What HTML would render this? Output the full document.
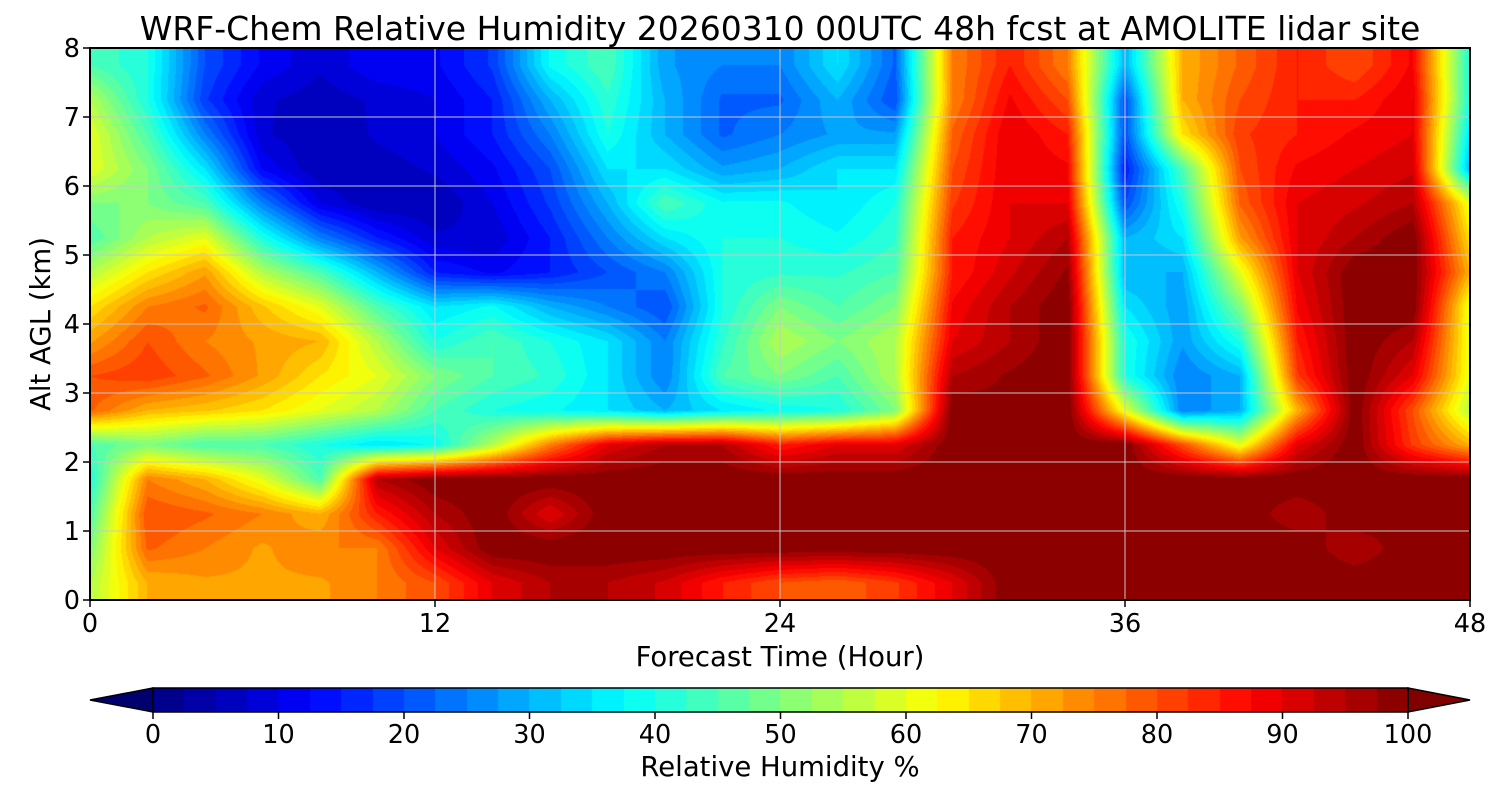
<!DOCTYPE html>
<html><head><meta charset="utf-8">
<style>
body{margin:0;background:#fff;width:1500px;height:800px;overflow:hidden;font-family:"DejaVu Sans","Liberation Sans",sans-serif;}
#wrap{position:relative;width:1500px;height:800px;}
canvas{position:absolute;}
svg{position:absolute;left:0;top:0;font-family:"DejaVu Sans","Liberation Sans",sans-serif;}
</style></head><body>
<div id="wrap">
<canvas id="hm" width="1380" height="552" style="left:90px;top:48px"></canvas>
<canvas id="cb" width="1255" height="24" style="left:153px;top:688px"></canvas>
<svg id="ov" width="1500" height="800"></svg>
</div>
<script>
const hours=[0,2,4,6,8,10,12,14,16,18,20,22,24,26,28,30,32,34,36,38,40,42,44,46,48];
const alts=[7.75,7.25,6.75,6.25,5.75,5.25,4.75,4.25,3.75,3.25,2.75,2.25,1.75,1.25,0.75,0.25];
const rh=[
[45,40,20,12,8,12,12,18,38,45,28,25,25,35,22,75,85,75,30,70,78,85,80,88,40],
[55,40,18,8,6,8,10,15,30,42,30,22,22,30,20,75,88,80,20,70,80,85,85,90,40],
[60,45,25,8,5,8,10,15,25,40,30,22,25,28,28,78,90,85,20,65,82,85,88,90,35],
[60,50,35,12,5,6,8,12,20,35,35,28,30,35,35,80,90,88,15,45,80,88,90,92,30],
[50,50,45,25,10,5,5,10,18,30,45,38,38,35,40,82,90,90,20,40,78,90,92,95,60],
[45,55,60,40,25,15,8,8,15,25,35,40,40,38,42,85,90,95,30,35,72,90,95,100,65],
[55,65,72,55,45,30,15,12,15,20,25,40,42,42,45,85,92,98,30,30,60,90,100,100,70],
[65,75,78,68,60,45,35,38,30,25,20,40,50,45,50,88,95,100,35,28,50,88,100,100,60],
[72,80,75,72,70,55,40,45,40,35,25,42,55,50,55,90,95,100,40,28,40,85,100,95,60],
[80,82,78,72,65,60,50,45,42,35,25,45,50,45,55,95,98,100,40,25,30,82,100,90,60],
[78,70,68,65,60,55,45,40,38,35,30,35,38,40,50,100,98,100,60,25,30,70,100,80,55],
[45,50,45,45,40,35,38,55,75,90,95,95,85,90,90,100,100,100,100,80,60,90,100,82,70],
[40,75,70,60,45,95,100,100,100,100,100,100,100,100,100,100,100,100,100,100,100,100,100,100,100],
[45,80,78,75,70,85,95,100,90,100,100,100,100,98,100,100,100,100,100,100,100,95,100,98,100],
[50,78,75,72,75,75,90,100,100,100,100,100,100,100,100,100,100,100,100,100,100,100,95,100,100],
[55,70,72,72,72,75,80,90,95,95,92,85,80,78,82,90,100,100,100,100,100,100,100,100,100]];
const xTicks=[0,12,24,36,48];
const yTicks=[0,1,2,3,4,5,6,7,8];
const cbTicks=[0,10,20,30,40,50,60,70,80,90,100];

const PX=90,PY=48,PW=1380,PH=552;
const xs=h=>PX+h/48*PW, ys=a=>PY+PH-a/8*PH;
function jet(v){
  const c=x=>Math.max(0,Math.min(1,x));
  return [c(1.5-Math.abs(4*v-3)),c(1.5-Math.abs(4*v-2)),c(1.5-Math.abs(4*v-1))].map(t=>Math.round(t*255));
}
function quant(v){const L=2.5;let q=Math.floor(Math.max(0,Math.min(99.99,v))/L)*L+L/2;return q/100;}
(function(){
  const cv=document.getElementById('hm'),ctx=cv.getContext('2d'),im=ctx.createImageData(PW,PH);
  const nA=alts.length,nH=hours.length;
  const altAsc=alts.slice().reverse(), rhAsc=rh.slice().reverse();
  for(let py=0;py<PH;py++){
    const a=8-(py+0.5)/PH*8;
    let ai=0;while(ai<nA-2&&altAsc[ai+1]<a)ai++;
    let fa=(a-altAsc[ai])/(altAsc[ai+1]-altAsc[ai]);fa=Math.max(0,Math.min(1,fa));
    for(let px=0;px<PW;px++){
      const h=(px+0.5)/PW*48;
      let hi=Math.min(nH-2,Math.floor(h/2));let fh=(h-hours[hi])/(hours[hi+1]-hours[hi]);
      const v=(1-fa)*((1-fh)*rhAsc[ai][hi]+fh*rhAsc[ai][hi+1])+fa*((1-fh)*rhAsc[ai+1][hi]+fh*rhAsc[ai+1][hi+1]);
      const col=jet(quant(v));const k=(py*PW+px)*4;
      im.data[k]=col[0];im.data[k+1]=col[1];im.data[k+2]=col[2];im.data[k+3]=255;
    }
  }
  ctx.putImageData(im,0,0);
})();
(function(){
  const ctx=document.getElementById('cb').getContext('2d');
  for(let x=0;x<1255;x++){const c=jet(quant((x+0.5)/1255*100));ctx.fillStyle=`rgb(${c})`;ctx.fillRect(x,0,1,24);}
})();
const NS='http://www.w3.org/2000/svg',ov=document.getElementById('ov');
function mk(t,at,txt){const e=document.createElementNS(NS,t);for(const k in at)e.setAttribute(k,at[k]);if(txt!==undefined)e.textContent=txt;ov.appendChild(e);return e;}
xTicks.forEach(t=>{
  const g=mk('line',{x1:xs(t),x2:xs(t),y1:PY,y2:PY+PH,stroke:'#c8c8c8','stroke-width':1});
  
  
  mk('line',{x1:xs(t),x2:xs(t),y1:PY+PH,y2:PY+PH+7,stroke:'#000','stroke-width':1.5});
  const l=mk('text',{x:xs(t),y:632,'font-size':25.5,'text-anchor':'middle'},t);
  
  
});
yTicks.forEach(t=>{
  const g=mk('line',{x1:PX,x2:PX+PW,y1:ys(t),y2:ys(t),stroke:'#c8c8c8','stroke-width':1});
  
  
  mk('line',{x1:PX-7,x2:PX,y1:ys(t),y2:ys(t),stroke:'#000','stroke-width':1.5});
  const l=mk('text',{x:80,y:ys(t)+9,'font-size':25.5,'text-anchor':'end'},t);
  
  
});
const fr=mk('rect',{x:PX,y:PY,width:PW,height:PH,fill:'none',stroke:'#000','stroke-width':2});

const ti=mk('text',{x:780,y:40,'font-size':33,'text-anchor':'middle'},'WRF-Chem Relative Humidity 20260310 00UTC 48h fcst at AMOLITE lidar site');

const xt=mk('text',{x:780,y:666,'font-size':27.5,'text-anchor':'middle'},'Forecast Time (Hour)');

const yt=mk('text',{x:0,y:0,'font-size':27.5,'text-anchor':'middle',transform:'translate(50,324) rotate(-90)'},'Alt AGL (km)');

const el=mk('polygon',{points:'153,688 90,700 153,712',fill:'rgb(0,0,110)',stroke:'#000','stroke-width':1.5});

const er=mk('polygon',{points:'1408,688 1470,700 1408,712',fill:'rgb(128,0,0)',stroke:'#000','stroke-width':1.5});

mk('rect',{x:153,y:688,width:1255,height:24,fill:'none',stroke:'#000','stroke-width':1.5});
cbTicks.forEach(t=>{
  const x=153+t/100*1255;
  mk('line',{x1:x,x2:x,y1:712,y2:719,stroke:'#000','stroke-width':1.5});
  const l=mk('text',{x:x,y:743,'font-size':25.5,'text-anchor':'middle'},t);
  
  
});
const ct=mk('text',{x:780,y:776,'font-size':27.5,'text-anchor':'middle'},'Relative Humidity %');

</script>
</body></html>
